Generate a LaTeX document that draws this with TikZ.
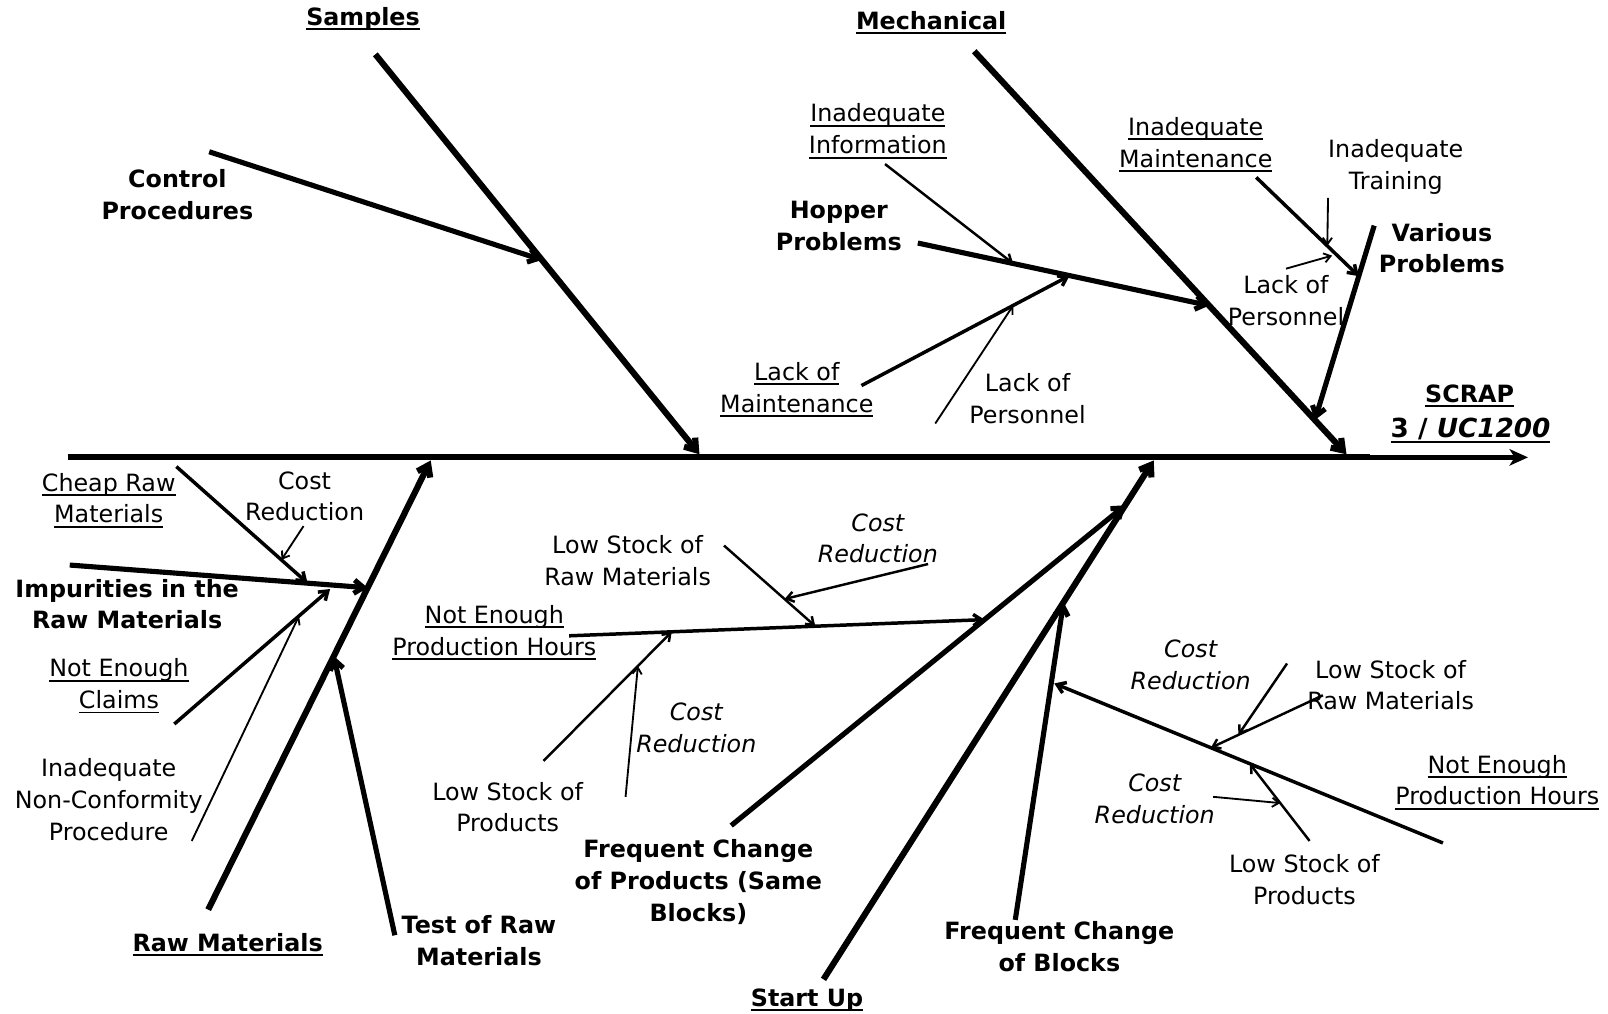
\documentclass[tikz,border=0pt]{standalone}
\usepackage{fontspec}
\setmainfont{DejaVu Sans}[
  ItalicFont={DejaVu Sans Oblique},
  BoldFont={DejaVu Sans Bold},
  BoldItalicFont={DejaVu Sans Bold Oblique}]
\usetikzlibrary{calc,arrows.meta}

% underlined text with a fixed rule below the baseline
\newsavebox{\undlbox}
\newcommand{\undl}[1]{\sbox{\undlbox}{#1}\rlap{\rule[-2.4pt]{\wd\undlbox}{0.9pt}}\usebox{\undlbox}}

\begin{document}
\begin{tikzpicture}[x=0.5pt,y=-0.5pt,
  txt/.style={font=\fontsize{11.6}{15.5}\selectfont, align=center, inner sep=0pt},
  btxt/.style={txt, font=\fontsize{11.6}{15.5}\selectfont\bfseries},
  itxt/.style={txt, font=\fontsize{11.6}{15.5}\selectfont\itshape},
  spine/.style={line width=2.2pt, -{Stealth[length=9pt,width=8pt,inset=2.5pt]}},
  bone/.style={line width=3pt, -{Straight Barb[length=5pt,width=7pt]}},
  bonetwo/.style={line width=2.5pt, -{Straight Barb[length=4.5pt,width=6.5pt]}},
  rib/.style={line width=1.7pt, -{Straight Barb[length=4pt,width=5.5pt]}},
  twig/.style={line width=1.2pt, -{Straight Barb[length=3.5pt,width=5pt]}},
  hair/.style={line width=0.9pt, -{Straight Barb[length=3.2pt,width=4.5pt]}},
]
\useasboundingbox (0,0) rectangle (1568,988);

% ---------- spine (heavier up to the last bone) ----------
\coordinate (sL) at (66,446);
\coordinate (sM) at (1336,446);
\coordinate (sR) at (1490,446);
\draw[spine] (sL) -- (sR);
\draw[line width=3pt] (sL) -- (sM);

% ---------- upper causes ----------
\coordinate (smpA) at (366,53);
\coordinate (smpB) at ($(sL)!0.4326!(sR)+(0,-3)$);
\coordinate (cpA)  at (204,148);
\coordinate (cpB)  at ($(smpA)!0.514!(smpB)$);
\coordinate (mecA) at (950,50);
\coordinate (mecB) at ($(sL)!0.8757!(sR)+(0,-3)$);
\coordinate (hopA) at (895,237);
\coordinate (hopB) at ($(mecA)!0.631!(mecB)$);
\coordinate (iiA)  at (863,160);
\coordinate (iiB)  at ($(hopA)!0.327!(hopB)$);
\coordinate (lomA) at (840,376);
\coordinate (lomB) at ($(hopA)!0.521!(hopB)$);
\coordinate (lp1A) at (912,413);
\coordinate (lp1B) at ($(lomA)!0.729!(lomB)$);
\coordinate (vpA)  at (1340,220);
\coordinate (vpB)  at ($(mecA)!0.915!(mecB)$);
\coordinate (imA)  at (1225,173);
\coordinate (imB)  at ($(vpA)!0.26!(vpB)$);
\coordinate (itA)  at (1295,193);
\coordinate (itB)  at ($(imA)!0.693!(imB)$);
\coordinate (lp2A) at (1254,262);
\coordinate (lp2B) at ($(imA)!0.74!(imB)+(0,5)$);

\draw[bone]    (smpA) -- (smpB);
\draw[bonetwo] (cpA)  -- (cpB);
\draw[bone]    (mecA) -- (mecB);
\draw[bonetwo] (hopA) -- (hopB);
\draw[twig]    (iiA)  -- (iiB);
\draw[rib]     (lomA) -- (lomB);
\draw[hair]    (lp1A) -- (lp1B);
\draw[bonetwo] (vpA)  -- (vpB);
\draw[rib]     (imA)  -- (imB);
\draw[hair]    (itA)  -- (itB);
\draw[hair]    (lp2A) -- (lp2B);

% ---------- lower causes ----------
\coordinate (rmA) at (203,887);
\coordinate (rmB) at ($(sL)!0.2486!(sR)+(0,3)$);
\coordinate (trA) at (385,912);
\coordinate (trB) at ($(rmA)!0.5646!(rmB)$);
\coordinate (impA) at (68,551);
\coordinate (impB) at ($(rmA)!0.7166!(rmB)$);
\coordinate (chA) at (172,455);
\coordinate (chB) at ($(impA)!0.7986!(impB)$);
\coordinate (clA) at (296,513);
\coordinate (clB) at ($(chA)!0.8!(chB)$);
\coordinate (ncA) at (170,706);
\coordinate (ncB) at ($(impA)!0.874!(impB)+(0,4)$);
\coordinate (inA) at (187,820);
\coordinate (inB) at ($(ncA)!0.8!(ncB)$);

\coordinate (suA) at (803,955);
\coordinate (suB) at ($(sL)!0.7437!(sR)+(0,3)$);
\coordinate (fpA) at (713,805);
\coordinate (fpB) at ($(suA)!0.9136!(suB)$);
\coordinate (fbA) at (990,897);
\coordinate (fbB) at ($(suA)!0.727!(suB)$);
\coordinate (nrA) at (1407,822);
\coordinate (nrB) at ($(fbA)!0.744!(fbB)+(3,0)$);
\coordinate (nmA) at (555,620);
\coordinate (nmB) at ($(fpA)!0.643!(fpB)$);
\coordinate (smA) at (706,532);
\coordinate (smB) at ($(nmA)!0.5926!(nmB)$);
\coordinate (c2A) at (905,550);
\coordinate (c2B) at ($(smA)!0.663!(smB)$);
\coordinate (pmA) at (530,742);
\coordinate (pmB) at ($(nmA)!0.247!(nmB)$);
\coordinate (c3A) at (610,777);
\coordinate (c3B) at ($(pmA)!0.736!(pmB)$);
\coordinate (srA) at (1290,678);
\coordinate (srB) at ($(nrA)!0.597!(nrB)$);
\coordinate (c4A) at (1255,647);
\coordinate (c4B) at ($(srA)!0.755!(srB)$);
\coordinate (prA) at (1277,820);
\coordinate (prB) at ($(nrA)!0.497!(nrB)$);
\coordinate (c5A) at (1183,777);
\coordinate (c5B) at ($(prA)!0.49!(prB)$);

\draw[bone]    (rmA)  -- (rmB);
\draw[bonetwo] (trA)  -- (trB);
\draw[bonetwo] (impA) -- (impB);
\draw[rib]     (chA)  -- (chB);
\draw[hair]    (clA)  -- (clB);
\draw[rib]     (ncA)  -- (ncB);
\draw[hair]    (inA)  -- (inB);

\draw[bone]    (suA)  -- (suB);
\draw[bonetwo] (fpA)  -- (fpB);
\draw[bonetwo] (fbA)  -- (fbB);
\draw[rib]     (nrA)  -- (nrB);
\draw[rib]     (nmA)  -- (nmB);
\draw[twig]    (smA)  -- (smB);
\draw[twig]    (c2A)  -- (c2B);
\draw[twig]    (pmA)  -- (pmB);
\draw[hair]    (c3A)  -- (c3B);
\draw[twig]    (srA)  -- (srB);
\draw[twig]    (c4A)  -- (c4B);
\draw[twig]    (prA)  -- (prB);
\draw[hair]    (c5A)  -- (c5B);

% ---------- labels, upper half ----------
\node[btxt] (samples) at (354,18)   {\undl{Samples}};
\node[btxt] (ctrl)    at (173,190)  {Control\\Procedures};
\node[btxt] (mech)    at (908,22)   {\undl{Mechanical}};
\node[txt]  (info)    at (856,128)  {\undl{Inadequate}\\\undl{Information}};
\node[btxt] (hopper)  at (818,220)  {Hopper\\Problems};
\node[txt]  (lackm)   at (777,380)  {\undl{Lack of}\\\undl{Maintenance}};
\node[txt]  (lackpa)  at (1002,389) {Lack of\\Personnel};
\node[txt]  (maint)   at (1166,141) {\undl{Inadequate}\\\undl{Maintenance}};
\node[txt]  (train)   at (1361,163) {Inadequate\\Training};
\node[btxt] (various) at (1406,242) {Various\\Problems};
\node[txt]  (lackpb)  at (1254,293) {Lack of\\Personnel};
\node[btxt] (scrap)   at (1433,386) {\undl{SCRAP}};
\node[btxt, font=\fontsize{12.8}{15.5}\selectfont\bfseries] (unit) at (1434,420) {\undl{3 / \textit{UC1200}}};

% ---------- labels, lower half ----------
\node[txt]  (cheap)   at (106,488)  {\undl{Cheap Raw}\\\undl{Materials}};
\node[txt]  (costl)   at (297,484)  {Cost\\Reduction};
\node[btxt] (impur)   at (124,589)  {Impurities in the\\Raw Materials};
\node[txt]  (claims)  at (116,669)  {\undl{Not Enough}\\\undl{Claims}};
\node[txt]  (ncp)     at (106,780)  {Inadequate\\Non-Conformity\\Procedure};
\node[btxt] (rawm)    at (222,921)  {\undl{Raw Materials}};
\node[btxt] (test)    at (467,917)  {Test of Raw\\Materials};
\node[txt]  (hoursm)  at (482,617)  {\undl{Not Enough}\\\undl{Production Hours}};
\node[txt]  (stockm)  at (612,547)  {Low Stock of\\Raw Materials};
\node[itxt] (costma)  at (856,525)  {Cost\\Reduction};
\node[txt]  (prodm)   at (495,787)  {Low Stock of\\Products};
\node[itxt] (costmb)  at (679,710)  {Cost\\Reduction};
\node[btxt] (fcp)     at (681,860)  {Frequent Change\\of Products (Same\\Blocks)};
\node[btxt] (start)   at (787,975)  {\undl{Start Up}};
\node[btxt] (fcb)     at (1033,923) {Frequent Change\\of Blocks};
\node[itxt] (costra)  at (1161,648) {Cost\\Reduction};
\node[txt]  (stockr)  at (1356,668) {Low Stock of\\Raw Materials};
\node[txt]  (hoursr)  at (1460,763) {\undl{Not Enough}\\\undl{Production Hours}};
\node[itxt] (costrb)  at (1126,779) {Cost\\Reduction};
\node[txt]  (prodr)   at (1272,858) {Low Stock of\\Products};
\end{tikzpicture}
\end{document}
